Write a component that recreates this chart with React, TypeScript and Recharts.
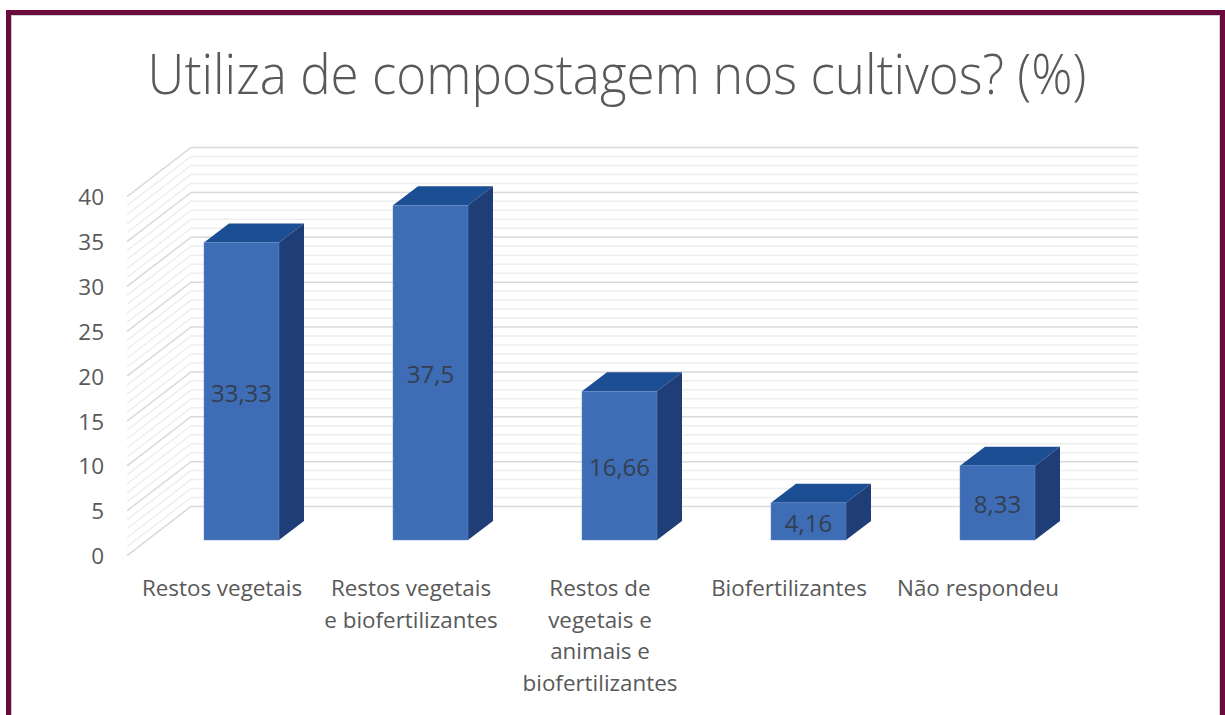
import React from "react";
import { BarChart, Bar, XAxis, YAxis, CartesianGrid, LabelList } from "recharts";

const categories = [
  "Restos vegetais",
  "Restos vegetais e biofertilizantes",
  "Restos de vegetais e animais e biofertilizantes",
  "Biofertilizantes",
  "Não respondeu",
];
const categoryLines: string[][] = [
  ["Restos vegetais"],
  ["Restos vegetais", "e biofertilizantes"],
  ["Restos de", "vegetais e", "animais e", "biofertilizantes"],
  ["Biofertilizantes"],
  ["Não respondeu"],
];
const values = [33.33, 37.5, 16.66, 4.16, 8.33];
const yTicks = [0, 5, 10, 15, 20, 25, 30, 35, 40];
const minorGrid = [1, 2, 3, 4, 6, 7, 8, 9, 11, 12, 13, 14, 16, 17, 18, 19, 21, 22, 23, 24, 26, 27, 28, 29, 31, 32, 33, 34, 36, 37, 38, 39];
const majorGrid = [0, 5, 10, 15, 20, 25, 30, 35, 40];

const data = categories.map((name, i) => ({ name, value: values[i] }));

const FONT = "'Open Sans', 'Noto Sans', sans-serif";
const FRONT_X = 127;
const BACK_X = 191;
const END_X = 1138;
const BASE_Y = 540;
const WALL_SCALE = 359 / 357;
const wallY = (y: number) => BASE_Y - (BASE_Y - y) * WALL_SCALE;

const gridLine = (color: string, width: number) => (props: any) => {
  const y = wallY(props.y1);
  return (
    <polyline
      key={props.key ?? y}
      points={`${FRONT_X},${y + 15.7} ${BACK_X},${y - 33.5} ${END_X},${y - 33.5}`}
      fill="none"
      stroke={color}
      strokeWidth={width}
    />
  );
};

const Bar3D = (props: any) => {
  const { x, y, width, height } = props;
  const dx = 25;
  const dy = 19;
  return (
    <g>
      <polygon points={`${x},${y} ${x + dx},${y - dy} ${x + width + dx},${y - dy} ${x + width},${y}`} fill="#1b4e93" />
      <polygon points={`${x + width},${y} ${x + width + dx},${y - dy} ${x + width + dx},${y + height - dy} ${x + width},${y + height}`} fill="#1f3d77" />
      <rect x={x} y={y} width={width} height={height} fill="#3e6db5" stroke="#5f8aca" strokeWidth={0.5} />
    </g>
  );
};

const XTick = (props: any) => {
  const { x, index } = props;
  const lines = categoryLines[index] ?? [];
  return (
    <text x={x - 19.5} textAnchor="middle" fontFamily={FONT} fontSize={22.4} fill="#595959">
      {lines.map((l, i) => (
        <tspan key={l} x={x - 19.5} y={596 + i * 31.7}>
          {l}
        </tspan>
      ))}
    </text>
  );
};

const YTick = (props: any) => {
  const { y, payload } = props;
  return (
    <text x={104} y={wallY(y) + 15.7} textAnchor="end" dominantBaseline="central" fontFamily={FONT} fontSize={22.5} fill="#595959">
      {payload.value}
    </text>
  );
};

export default function App() {
  return (
    <div style={{ position: "absolute", left: 0, top: 0, width: 1225, height: 715, overflow: "hidden", background: "#fff" }}>
      <div
        style={{
          position: "absolute",
          left: 6,
          top: 10,
          width: 1219,
          height: 720,
          boxSizing: "border-box",
          border: "5px solid #6b0a3c",
          boxShadow: "inset 0 0 0 1px #cfcfcf",
        }}
      />
      <div
        style={{
          position: "absolute",
          left: 0,
          top: 37,
          width: 1234,
          textAlign: "center",
          fontFamily: FONT,
          fontWeight: 300,
          fontSize: 55,
          lineHeight: "72px",
          color: "#595959",
          whiteSpace: "nowrap",
          transform: "scaleX(0.93)",
          transformOrigin: "617px 0",
        }}
      >
        Utiliza de compostagem nos cultivos? (%)
      </div>
      <div style={{ position: "absolute", left: 0, top: 0 }}>
        <BarChart
          width={1225}
          height={715}
          data={data}
          barSize={75}
          margin={{ left: 87, right: 133, top: 183, bottom: 115 }}
        >
          <CartesianGrid vertical={false} horizontalValues={minorGrid} horizontal={gridLine("#eeeeee", 1.5)} />
          <CartesianGrid vertical={false} horizontalValues={majorGrid} horizontal={gridLine("#d9d9d9", 1.5)} />
          <XAxis dataKey="name" height={60} axisLine={false} tickLine={false} tick={<XTick />} interval={0} />
          <YAxis width={60} domain={[0, 40]} ticks={yTicks} axisLine={false} tickLine={false} tick={<YTick />} interval={0} />
          <Bar dataKey="value" shape={<Bar3D />} isAnimationActive={false}>
            <LabelList
              dataKey="value"
              position="center"
              formatter={(v: any) => String(v).replace(".", ",")}
              fontFamily={FONT}
              fontSize={24}
              dy={2}
              fill="#333f50"
            />
          </Bar>
        </BarChart>
      </div>
    </div>
  );
}
